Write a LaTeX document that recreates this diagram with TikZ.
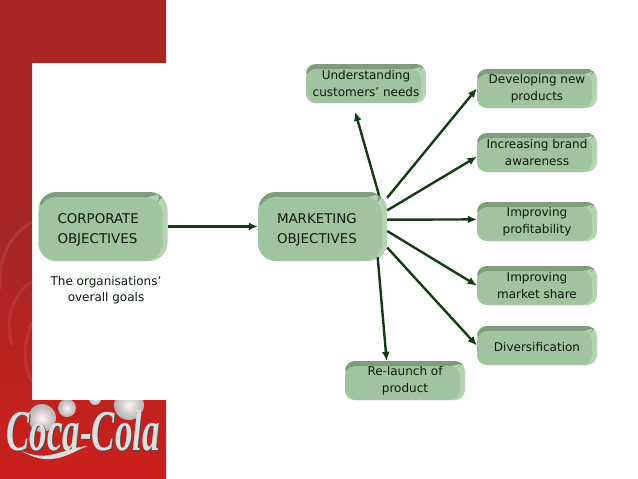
\documentclass[tikz,border=0pt]{standalone}
\usepackage{fontspec}
\setmainfont{DejaVu Sans}
\newfontfamily\logofont{Liberation Serif}
\usetikzlibrary{arrows.meta,calc}
\definecolor{BandTop}{HTML}{A82725}
\definecolor{BandLow}{HTML}{CC1F1B}
\definecolor{FaceGreen}{HTML}{A0C3A0}
\definecolor{BevelDark}{HTML}{7F9C7E}
\definecolor{BevelLight}{HTML}{B4D4B1}
\definecolor{LinkGreen}{HTML}{143C14}
\definecolor{InkGreen}{HTML}{0C1A0C}
\definecolor{LogoSilver}{HTML}{DEDEDE}
\tikzset{
  goal box/.style={
    rectangle,
    rounded corners=#1,
    fill=BevelLight,
    inner sep=0pt,
    text=InkGreen,
    align=center,
    minimum width=120pt,
    minimum height=39pt,
    font=\fontsize{12}{17}\selectfont,
    execute at begin node={\rule{0pt}{12pt}},
    path picture={
      \fill[BevelDark] (path picture bounding box.north west)
        -- (path picture bounding box.north east)
        -- ([xshift=-5pt,yshift=-5pt]path picture bounding box.north east)
        -- ([xshift=#1,yshift=-5pt]path picture bounding box.north west)
        -- ([xshift=#1,yshift=-#1-5pt]path picture bounding box.north west)
        -- ([yshift=-#1-5pt]path picture bounding box.north west) -- cycle;
      \fill[FaceGreen, rounded corners=#1] (path picture bounding box.south west)
        rectangle ([xshift=-5pt,yshift=-5pt]path picture bounding box.north east);
    }
  },
  small goal/.style={goal box=10pt},
  main goal/.style={
    goal box=18pt,
    align=left,
    inner xsep=19pt,
    text width=91pt,
    minimum height=69pt,
    font=\fontsize{13.4}{20}\selectfont,
    execute at begin node={\rule{0pt}{16pt}}
  },
  goal link/.style={-{Latex[length=9pt,width=8pt]}, line width=2.4pt, LinkGreen},
  goal note/.style={align=center, text=InkGreen, font=\fontsize{12}{16}\selectfont},
  soap bubble/.style={inner color=white, outer color=black!28, opacity=0.95},
  logo word/.style={
    font=\logofont\bfseries\itshape\fontsize{35}{35}\selectfont,
    yscale=1.65, transform shape, inner sep=0pt
  }
}
\begin{document}
\begin{tikzpicture}[x=1pt, y=-1pt]
  \useasboundingbox (0,0) rectangle (638,479);
  \fill[white] (0,0) rectangle (638,479);

  \shade[top color=BandTop, bottom color=BandLow, middle color=BandTop]
    (0,0) -- (166,0) -- (166,63) -- (32,63) -- (32,400) -- (166,400)
    -- (166,479) -- (0,479) -- cycle;
  \begin{scope}[white, opacity=0.07, line width=3pt]
    \draw (32,222) .. controls (8,235) and (-2,262) .. (0,290);
    \draw (32,282) .. controls (14,292) and (4,318) .. (12,345);
    \draw (32,322) .. controls (24,340) and (22,365) .. (32,382);
  \end{scope}

  \begin{scope}
    \clip (0,400) rectangle (166,479);
    \shade[soap bubble] (67,408) circle (9);
    \shade[soap bubble] (129,405) circle (15);
    \shade[soap bubble] (42,418) circle (14);
    \shade[soap bubble] (95,399) circle (6);
  \end{scope}
  \node[logo word, text=black!70] (logoshadow) at (84,432) {Coca-Cola};
  \node[logo word, text=LogoSilver] (logo) at (83,431) {Coca-Cola};
  \fill[LogoSilver] (20,450) .. controls (48,464) and (62,448) .. (88,446)
    .. controls (70,452) and (52,470) .. (20,450) -- cycle;

  \node[main goal] (corporate) at (103,226.5) {CORPORATE\\OBJECTIVES};
  \node[main goal] (marketing) at (322.5,226.5) {MARKETING\\OBJECTIVES};
  \node[goal note] (overall) at (106,290) {The organisations'\\overall goals};

  \node[small goal] (customers) at (366,83.5) {Understanding\\customers' needs};
  \node[small goal] (products) at (537,88.5) {Developing new\\products};
  \node[small goal] (brand) at (537,152.5) {Increasing brand\\awareness};
  \node[small goal] (profit) at (537,221.5) {Improving\\profitability};
  \node[small goal] (share) at (537,285.5) {Improving\\market share};
  \node[small goal] (diversify) at (537,345.5) {Diversification};
  \node[small goal] (relaunch) at (405,380.5) {Re-launch of\\product};

  \draw[goal link] (corporate) -- (marketing);
  \draw[goal link, shorten <=-4pt, shorten >=9pt] (marketing.32) -- (customers.236);
  \draw[goal link] (marketing.24) -- (products.west);
  \draw[goal link] (marketing.14) -- (brand.184);
  \draw[goal link] (marketing.6) -- (profit.178);
  \draw[goal link] (marketing.-4) -- (share.west);
  \draw[goal link] (marketing.-18) -- (diversify.west);
  \draw[goal link, shorten <=-4pt] (marketing.-32) -- (relaunch.133);
\end{tikzpicture}
\end{document}
